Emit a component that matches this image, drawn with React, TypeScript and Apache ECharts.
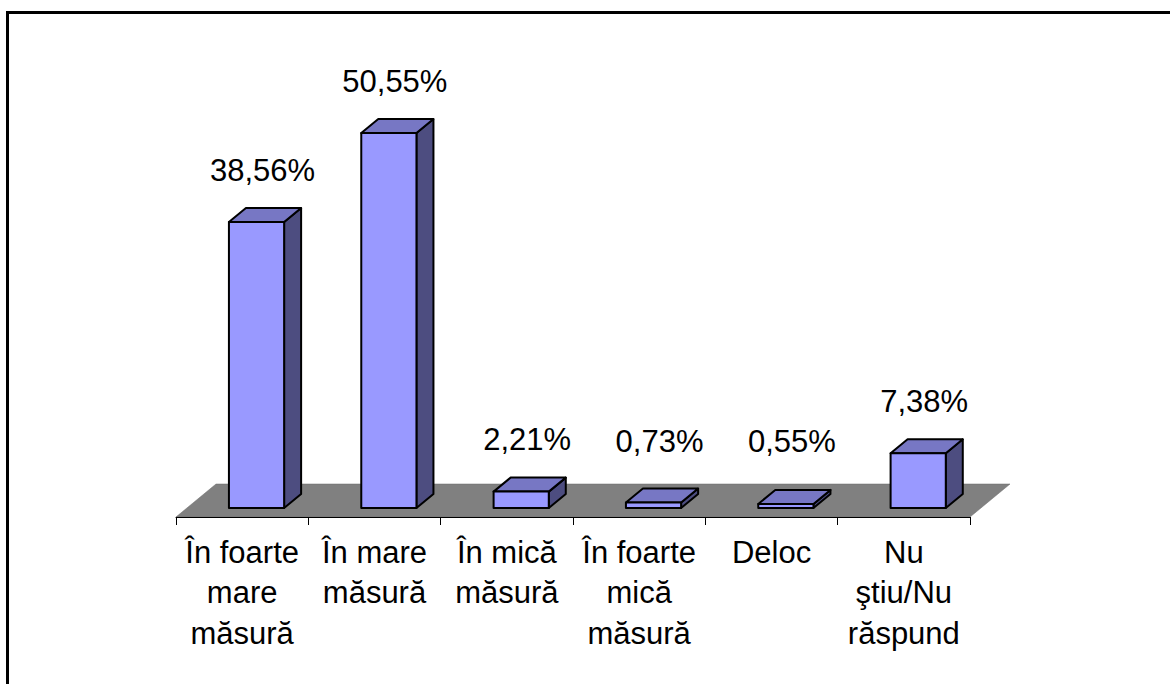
import React, { useEffect, useRef } from "react";
import * as echarts from "echarts";

const categories = [
  "În foarte\nmare\nmăsură",
  "În mare\nmăsură",
  "În mică\nmăsură",
  "În foarte\nmică\nmăsură",
  "Deloc",
  "Nu\nştiu/Nu\nrăspund",
];
const values = [38.56, 50.55, 2.21, 0.73, 0.55, 7.38];
const valueLabels = ["38,56%", "50,55%", "2,21%", "0,73%", "0,55%", "7,38%"];

const FONT = "Liberation Sans, Arial, sans-serif";

export default function App() {
  const ref = useRef<HTMLDivElement>(null);
  useEffect(() => {
    if (!ref.current) return;
    const chart = echarts.init(ref.current, null, { renderer: "svg" });
    const floorDX = 40;
    const floorDY = -33;
    const barDX = 17;
    const barDY = -14;
    const option: any = {
      animation: false,
      backgroundColor: "#ffffff",
      grid: { left: 176, right: 200, top: 72, bottom: 167, containLabel: false },
      xAxis: {
        type: "category",
        data: categories,
        z: 5,
        boundaryGap: true,
        axisLine: { show: true, lineStyle: { color: "#000", width: 1 } },
        axisTick: { show: true, length: 8, lineStyle: { color: "#000", width: 1 } },
        axisLabel: {
          interval: 0,
          margin: 15,
          color: "#000",
          fontFamily: FONT,
          fontSize: 31,
          lineHeight: 40.5,
          align: "center",
        },
        splitLine: { show: false },
      },
      yAxis: { type: "value", min: 0, max: 60, show: false },
      graphic: [
        {
          type: "polyline",
          shape: { points: [[7.5, 700], [7.5, 12.5], [1180, 12.5]] },
          style: { stroke: "#000", lineWidth: 3, fill: "none" },
          z: 10,
        },
      ],
      series: [
        {
          type: "custom",
          z: 1,
          data: [[0, 0]],
          renderItem: (params: any, api: any) => {
            const cs = params.coordSys;
            const x0 = cs.x;
            const x1 = cs.x + cs.width;
            const y0 = cs.y + cs.height;
            return {
              type: "polygon",
              shape: {
                points: [
                  [x0, y0],
                  [x1, y0],
                  [x1 + floorDX, y0 + floorDY],
                  [x0 + floorDX, y0 + floorDY],
                ],
              },
              style: { fill: "#808080", stroke: "#6a6a6a", lineWidth: 0.5 },
            };
          },
        },
        {
          type: "custom",
          z: 2,
          data: values.map((v, i) => [i, v]),
          renderItem: (params: any, api: any) => {
            const cat = api.value(0);
            const val = api.value(1);
            const base = api.coord([cat, 0]);
            const top = api.coord([cat, val]);
            const bw = api.size([1, 0])[0];
            const fl = base[0] - bw * 0.1;
            const fr = fl + bw * 0.417;
            const fb = base[1] - 9;
            const ft = top[1] - 9;
            const stroke = { stroke: "#000", lineWidth: 2, lineJoin: "round" };
            return {
              type: "group",
              children: [
                {
                  type: "polygon",
                  shape: { points: [[fr, ft], [fr + barDX, ft + barDY], [fr + barDX, fb + barDY], [fr, fb]] },
                  style: { fill: "#4d4d80", ...stroke },
                },
                {
                  type: "polygon",
                  shape: { points: [[fl, ft], [fr, ft], [fr + barDX, ft + barDY], [fl + barDX, ft + barDY]] },
                  style: { fill: "#7777c4", ...stroke },
                },
                {
                  type: "polygon",
                  shape: { points: [[fl, fb], [fr, fb], [fr, ft], [fl, ft]] },
                  style: { fill: "#9999ff", ...stroke },
                },
                {
                  type: "text",
                  style: {
                    x: (fl + fr) / 2 + 6,
                    y: Math.min(ft - 52, fb - 67),
                    text: valueLabels[params.dataIndex],
                    fill: "#000",
                    font: `31px ${FONT}`,
                    align: "center",
                    verticalAlign: "middle",
                  },
                },
              ],
            };
          },
        },
      ],
    };
    chart.setOption(option);
    return () => chart.dispose();
  }, []);
  return (
    <div
      ref={ref}
      style={{ position: "absolute", left: 0, top: 0, width: 1170, height: 684 }}
    />
  );
}
